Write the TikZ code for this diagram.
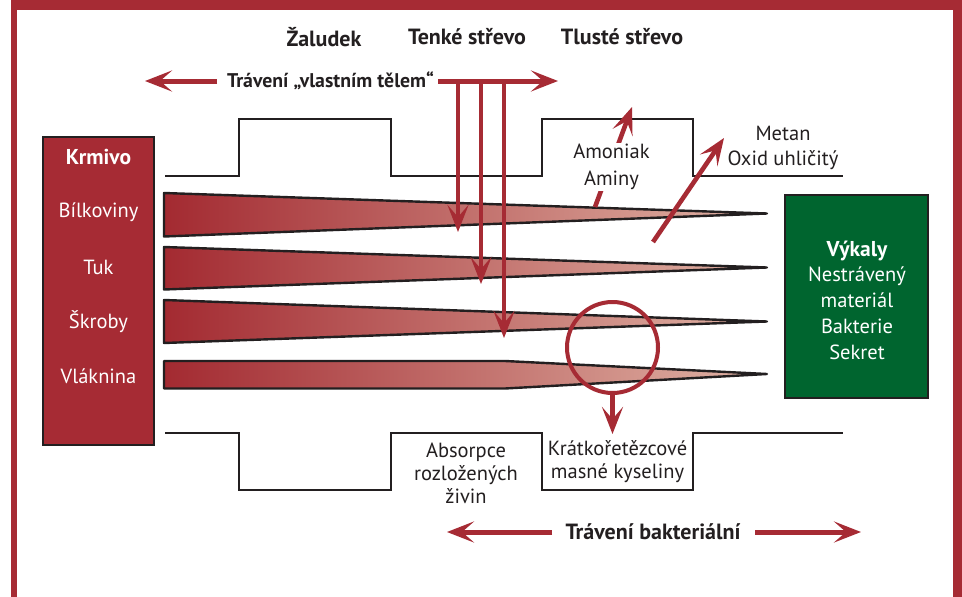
\documentclass[tikz,border=0pt]{standalone}
\usepackage{fontspec}
\setmainfont{PT Sans}
\usetikzlibrary{arrows.meta}
\definecolor{rd}{HTML}{A62B34}
\definecolor{gr}{HTML}{00652F}
\definecolor{ink}{HTML}{231F20}
\definecolor{wa}{HTML}{A32A31}
\definecolor{wb}{HTML}{BA6050}
\definecolor{wc}{HTML}{E0B4A6}
\begin{document}
\begin{tikzpicture}[x=1pt,y=-1pt,
  gut/.style={draw=ink, line width=2.6pt, line join=miter},
  wedge/.style={draw=ink, line width=2.4pt, line join=round, left color=wa, middle color=wb, right color=wc},
  redarrow/.style={draw=rd, line width=5pt, -{Stealth[length=27pt,width=21pt,inset=12pt]}},
  lbl/.style={font=\fontsize{20.5}{24}\selectfont, text=ink, align=center, inner sep=0pt},
  blbl/.style={font=\fontsize{22}{24}\selectfont\bfseries, text=ink, align=center, inner sep=0pt},
  wlbl/.style={font=\fontsize{20.5}{25.8}\selectfont, text=white, align=center, inner sep=0pt},
  box/.style={draw=ink, line width=2.2pt, inner sep=0pt}
]
\useasboundingbox (0,0) rectangle (962,597);
% frame
\fill[rd] (11,0) rectangle (962,597);
\fill[white] (17,10) rectangle (953,597);

% headers
\node[blbl] (zal) at (324,37) {Žaludek};
\node[blbl] (ten) at (467,37) {Tenké střevo};
\node[blbl] (tlu) at (622,37) {Tlusté střevo};

% gut outlines
\draw[gut] (165,176) -- (239,176) -- (239,119) -- (391,119) -- (391,176) -- (542,176) -- (542,119) -- (693,119) -- (693,176) -- (843,176);
\draw[gut] (165,433) -- (239,433) -- (239,490) -- (391,490) -- (391,433) -- (542,433) -- (542,490) -- (693,490) -- (693,433) -- (843,433);

% wedges
\path[wedge] (164,193) -- (767,213.5) -- (164,236.5) -- cycle;
\path[wedge] (164,247) -- (767,267.5) -- (164,289.5) -- cycle;
\path[wedge] (164,300) -- (767,321.5) -- (164,343) -- cycle;
\path[wedge] (164,361) -- (505,361) -- (767,374) -- (505,388.5) -- (164,388.5) -- cycle;

% Krmivo box
\node[box, fill=rd, minimum width=111pt, minimum height=308pt] (krm) at (98.5,291) {};
\node[wlbl, font=\fontsize{21.5}{25}\selectfont\bfseries] (krmt) at (98.5,157) {Krmivo};
\node[wlbl] (bil) at (98.5,212) {Bílkoviny};
\node[wlbl] (tuk) at (98.5,267) {Tuk};
\node[wlbl] (skr) at (98.5,322) {Škroby};
\node[wlbl] (vla) at (98.5,376) {Vláknina};

% Vykaly box
\node[box, fill=gr, minimum width=143pt, minimum height=203pt] (vyk) at (856.5,296.5) {};
\node[wlbl] (vykt) at (857,300) {{\fontsize{21.5}{25.8}\selectfont\bfseries Výkaly}\\Nestrávený\\materiál\\Bakterie\\Sekret};

% top arrow
\node[blbl, font=\fontsize{19.8}{24}\selectfont\bfseries] (tv) at (330.5,81) {Trávení „vlastním tělem“};
\coordinate (tvls) at (217,81);
\coordinate (tvl) at (145,81);
\coordinate (tvrs) at (438,81);
\coordinate (tvr) at (558,81);
\draw[redarrow] (tvls) -- (tvl);
\draw[redarrow] (tvrs) -- (tvr);
\coordinate (v1s) at (458,79);
\coordinate (v2s) at (481,79);
\coordinate (v3s) at (504,79);
\coordinate (v1e) at (458,232);
\coordinate (v2e) at (481,284);
\coordinate (v3e) at (504,338);
\draw[redarrow, line width=4.6pt] (v1s) -- (v1e);
\draw[redarrow, line width=4.6pt] (v2s) -- (v2e);
\draw[redarrow, line width=4.6pt] (v3s) -- (v3e);

% Amoniak
\coordinate (ams) at (595,207);
\coordinate (ame) at (632,107);
\draw[redarrow, line width=4.6pt] (ams) -- (ame);
\node[lbl, font=\fontsize{20.5}{27}\selectfont, fill=white, inner sep=1pt] (amo) at (611.5,167) {Amoniak\\Aminy};

% Metan
\coordinate (mes) at (653,242);
\coordinate (mee) at (724,138);
\draw[redarrow, line width=4.6pt] (mes) -- (mee);
\node[lbl, font=\fontsize{20.5}{25}\selectfont] (met) at (783,148) {Metan\\Oxid uhličitý};

% circle
\node[circle, draw=rd, line width=4pt, minimum size=91pt, inner sep=0pt] (circ) at (612.5,347.5) {};
\coordinate (cie) at (612.5,434);
\draw[redarrow, line width=4.6pt] (circ.south) -- (cie);

% bottom labels
\node[lbl, font=\fontsize{20.5}{23}\selectfont] (abs) at (466,473.5) {Absorpce\\rozložených\\živin};
\node[lbl, font=\fontsize{20.5}{23}\selectfont] (kra) at (617.5,462) {Krátkořetězcové\\masné kyseliny};

% bottom arrow
\node[blbl, font=\fontsize{22}{24}\selectfont\bfseries] (tb) at (653,532) {Trávení bakteriální};
\coordinate (tbls) at (552,532);
\coordinate (tbl) at (447,532);
\coordinate (tbrs) at (755,532);
\coordinate (tbr) at (861,532);
\draw[redarrow] (tbls) -- (tbl);
\draw[redarrow] (tbrs) -- (tbr);
\end{tikzpicture}
\end{document}
